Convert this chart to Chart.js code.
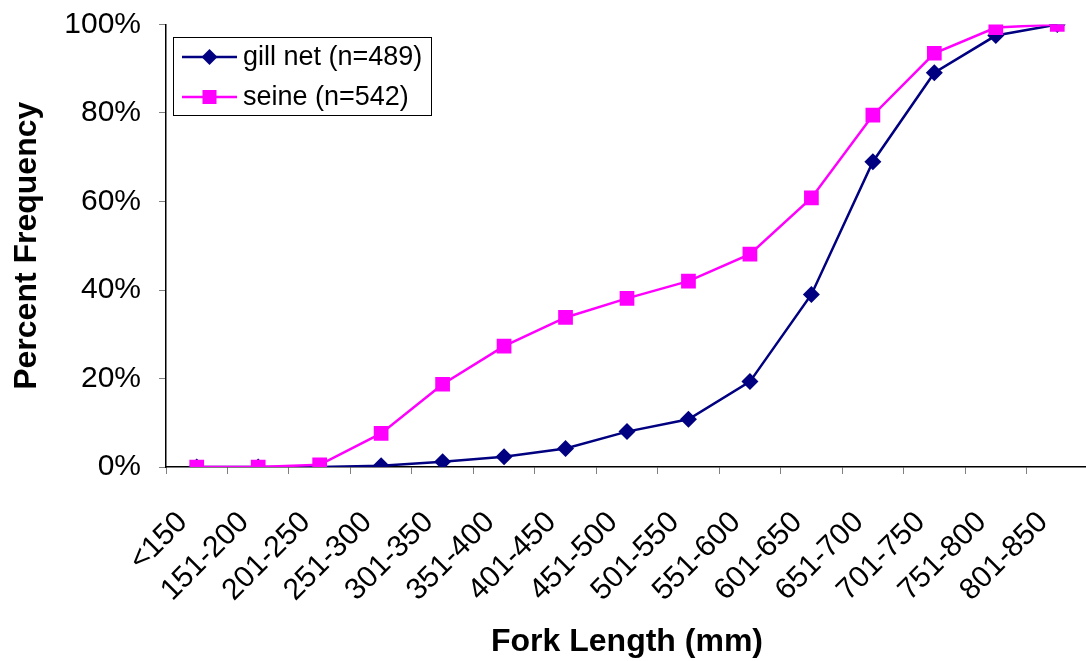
<!DOCTYPE html>
<html>
<head>
<meta charset="utf-8">
<script src="https://cdn.jsdelivr.net/npm/chart.js@4/dist/chart.umd.min.js"></script>
<style>
  html, body { margin: 0; padding: 0; background: #fff; overflow: hidden; }
  #wrap { position: relative; width: 1090px; height: 661px; }
</style>
</head>
<body>
<div id="wrap"><canvas id="c" width="1090" height="661"></canvas></div>
<script>
// Fork length classes (mm)
const categories = ['<150', '151-200', '201-250', '251-300', '301-350', '351-400', '401-450',
  '451-500', '501-550', '551-600', '601-650', '651-700', '701-750', '751-800', '801-850'];

// Cumulative percent frequency by gear type
const gillNet = [0, 0, 0, 0.3, 1.2, 2.3, 4.2, 8.0, 10.8, 19.3, 39.0, 69.0, 89.1, 97.5, 100];
const seine   = [0, 0, 0.5, 7.6, 18.7, 27.3, 33.8, 38.1, 42.0, 48.1, 60.8, 79.5, 93.5, 99.3, 100];

const yTicks = [0, 20, 40, 60, 80, 100];

const seriesNames = ['gill net (n=489)', 'seine (n=542)'];
const navy = '#000080';
const magenta = '#FF00FF';
const FONT = '"Liberation Sans", Arial, sans-serif';

// Boxed legend inside the plot area, top-left
const insideLegend = {
  id: 'insideLegend',
  afterDraw(chart) {
    const ctx = chart.ctx;
    const x0 = 173.5, y0 = 37.5, w = 258, h = 78;
    ctx.save();
    ctx.fillStyle = '#fff';
    ctx.fillRect(x0, y0, w, h);
    ctx.strokeStyle = '#000';
    ctx.lineWidth = 1;
    ctx.strokeRect(x0, y0, w, h);
    const rows = [
      { y: 57, color: navy, shape: 'diamond', text: seriesNames[0] },
      { y: 97, color: magenta, shape: 'square', text: seriesNames[1] }
    ];
    rows.forEach(r => {
      ctx.strokeStyle = r.color;
      ctx.lineWidth = 2.5;
      ctx.beginPath();
      ctx.moveTo(182, r.y);
      ctx.lineTo(237, r.y);
      ctx.stroke();
      ctx.fillStyle = r.color;
      const cx = 209.5;
      if (r.shape === 'diamond') {
        ctx.beginPath();
        ctx.moveTo(cx, r.y - 8);
        ctx.lineTo(cx + 8, r.y);
        ctx.lineTo(cx, r.y + 8);
        ctx.lineTo(cx - 8, r.y);
        ctx.closePath();
        ctx.fill();
      } else {
        ctx.fillRect(cx - 7, r.y - 7, 14, 14);
      }
      ctx.fillStyle = '#000';
      ctx.font = '27px ' + FONT;
      ctx.textBaseline = 'middle';
      ctx.textAlign = 'left';
      ctx.fillText(r.text, 243, r.y + 1);
    });
    ctx.restore();
  }
};

new Chart(document.getElementById('c'), {
  type: 'line',
  data: {
    labels: categories,
    datasets: [
      {
        label: seriesNames[0],
        data: gillNet,
        borderColor: navy,
        backgroundColor: navy,
        borderWidth: 2.5,
        pointStyle: 'rectRot',
        pointRadius: 8.5,
        pointHoverRadius: 8.5,
        pointBorderWidth: 0,
        tension: 0,
        order: 1
      },
      {
        label: seriesNames[1],
        data: seine,
        borderColor: magenta,
        backgroundColor: magenta,
        borderWidth: 2.5,
        pointStyle: 'rect',
        pointRadius: 10.4,
        pointHoverRadius: 10.4,
        pointBorderWidth: 0,
        tension: 0,
        order: 0
      }
    ]
  },
  options: {
    responsive: false,
    animation: false,
    devicePixelRatio: 1,
    layout: { autoPadding: false, padding: { left: 0, top: 24.5, right: 2, bottom: 0 } },
    plugins: {
      legend: { display: false },
      tooltip: { enabled: false }
    },
    scales: {
      x: {
        type: 'category',
        offset: true,
        grid: {
          offset: true,
          drawOnChartArea: false,
          drawTicks: true,
          tickLength: 7,
          color: '#808080',
          lineWidth: 1
        },
        border: { display: true, color: '#000', width: 1.5 },
        ticks: {
          color: '#000',
          font: { family: FONT, size: 30 },
          minRotation: 45,
          maxRotation: 45,
          autoSkip: false,
          padding: 31,
          labelOffset: -14
        },
        title: {
          display: true,
          text: 'Fork Length (mm)',
          color: '#000',
          font: { family: FONT, size: 32, weight: 'bold' },
          padding: { top: 0, bottom: 0 }
        },
        afterFit(scale) {
          scale.height = 194;
          scale.paddingLeft = 0;
          scale.paddingRight = 0;
        }
      },
      y: {
        min: 0,
        max: 100,
        afterBuildTicks(scale) { scale.ticks = yTicks.map(v => ({ value: v })); },
        grid: {
          drawOnChartArea: false,
          drawTicks: true,
          tickLength: 7,
          color: '#808080',
          lineWidth: 1
        },
        border: { display: true, color: '#000', width: 1.5 },
        ticks: {
          color: '#000',
          font: { family: FONT, size: 30 },
          padding: 18,
          callback: v => v + '%'
        },
        title: {
          display: true,
          text: 'Percent Frequency',
          color: '#000',
          font: { family: FONT, size: 32, weight: 'bold' },
          padding: { top: 8, bottom: 0 }
        },
        afterFit(scale) {
          scale.width = 166;
          scale.paddingTop = 0;
          scale.paddingBottom = 0;
        }
      }
    }
  },
  plugins: [insideLegend]
});
</script>
</body>
</html>
